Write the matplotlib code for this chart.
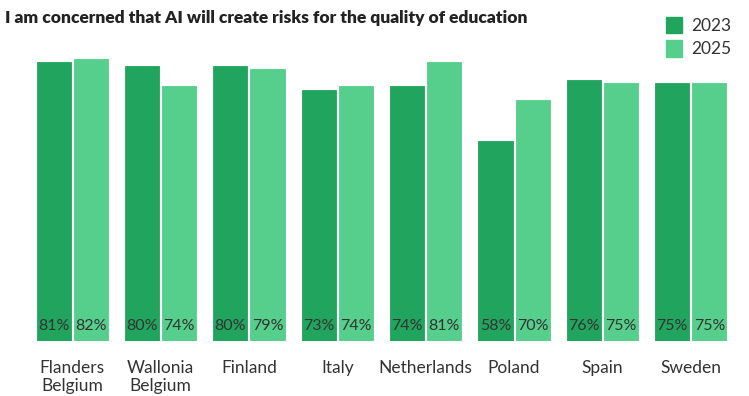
import numpy as np
import matplotlib.pyplot as plt
from matplotlib.patches import Patch

plt.rcParams['font.family'] = ['Lato', 'DejaVu Sans']

countries = ["Flanders\nBelgium", "Wallonia\nBelgium", "Finland", "Italy",
             "Netherlands", "Poland", "Spain", "Sweden"]
vals_2023 = [81, 80, 80, 73, 74, 58, 76, 75]
vals_2025 = [82, 74, 79, 74, 81, 70, 75, 75]
series = ["2023", "2025"]
colors = ["#21a45d", "#55cf8b"]

fig = plt.figure(figsize=(7.49, 3.96), dpi=100)
# axes: x from 28 to 735 px, y from 40 to 341 px
ax = fig.add_axes([28 / 749, 1 - 341 / 396, 707 / 749, 301 / 396])

x = np.arange(len(countries))
w = 0.385
off = 0.21
for vals, dx, c in [(vals_2023, -off, colors[0]), (vals_2025, off, colors[1])]:
    ax.bar(x + dx, vals, width=w, color=c, edgecolor=c, linewidth=0.6)
    for xi, v in zip(x + dx, vals):
        ax.text(xi, 4.3, f"{v}%", ha="center", va="center", fontsize=11.5,
                color="#333333")

ax.set_xlim(-0.5, len(countries) - 0.5)
ax.set_ylim(0, 87.5)
ax.set_xticks(x)
ax.set_xticklabels(countries, fontsize=12.5, color="#333333", linespacing=1.15)
ax.tick_params(axis="x", length=0, pad=14)
ax.set_yticks([])
for s in ax.spines.values():
    s.set_visible(False)

fig.text(5 / 749, 1 - 18 / 396, "I am concerned that AI will create risks for the quality of education",
         fontsize=12.5, fontweight="heavy", color="#222222", va="center", ha="left")

handles = [Patch(facecolor=c, edgecolor=c) for c in colors]
fig.legend(handles, series, loc="upper left", bbox_to_anchor=(650 / 749, 1 - 1 / 396),
           frameon=False, fontsize=12.5, handlelength=0.95, handleheight=1.1,
           handletextpad=0.55, labelspacing=0.35, labelcolor="#333333")

fig.savefig("out.png", dpi=100)
